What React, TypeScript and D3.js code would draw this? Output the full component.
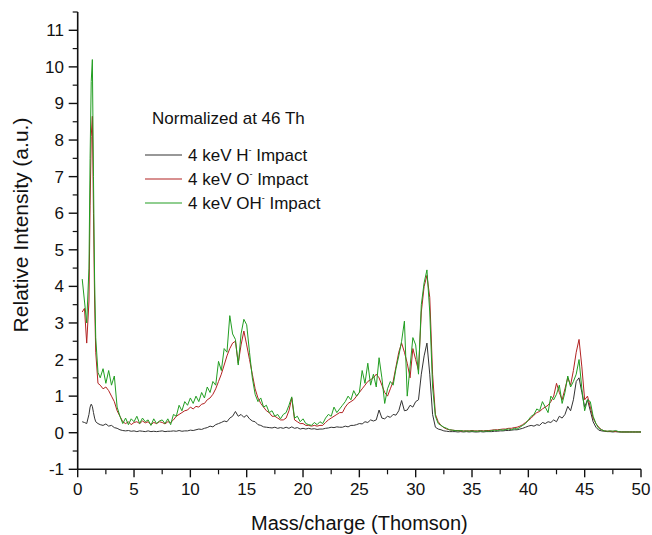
import React from 'react';
import * as d3 from 'd3';

// mass/charge grid (Thomson)
const massGrid = [
  0.4, 0.6, 0.8, 1.0, 1.1, 1.2, 1.3, 1.4, 1.5, 1.6, 1.8,
  2, 2.25, 2.5, 2.75, 3, 3.25, 3.5, 3.75, 4, 4.25, 4.5, 4.75,
  5, 5.25, 5.5, 5.75, 6, 6.25, 6.5, 6.75, 7, 7.25, 7.5, 7.75,
  8, 8.25, 8.5, 8.75, 9, 9.25, 9.5, 9.75, 10, 10.25, 10.5, 10.75,
  11, 11.25, 11.5, 11.75, 12, 12.25, 12.5, 12.75, 13, 13.25, 13.5, 13.75,
  14, 14.25, 14.5, 14.75, 15, 15.25, 15.5, 15.75, 16, 16.25, 16.5, 16.75,
  17, 17.25, 17.5, 17.75, 18, 18.25, 18.5, 18.75, 19, 19.25, 19.5, 19.75,
  20, 20.25, 20.5, 20.75, 21, 21.25, 21.5, 21.75, 22, 22.25, 22.5, 22.75,
  23, 23.25, 23.5, 23.75, 24, 24.25, 24.5, 24.75, 25, 25.25, 25.5, 25.75,
  26, 26.25, 26.5, 26.75, 27, 27.25, 27.5, 27.75, 28, 28.25, 28.5, 28.75,
  29, 29.25, 29.5, 29.75, 30, 30.25, 30.5, 30.75, 31, 31.25, 31.5, 31.75,
  32, 32.25, 32.5, 32.75, 33, 33.25, 33.5, 33.75, 34, 34.25, 34.5, 34.75,
  35, 35.25, 35.5, 35.75, 36, 36.25, 36.5, 36.75, 37, 37.25, 37.5, 37.75,
  38, 38.25, 38.5, 38.75, 39, 39.25, 39.5, 39.75, 40, 40.25, 40.5, 40.75,
  41, 41.25, 41.5, 41.75, 42, 42.25, 42.5, 42.75, 43, 43.25, 43.5, 43.75,
  44, 44.25, 44.5, 44.75, 45, 45.25, 45.5, 45.75, 46, 46.25, 46.5, 46.75,
  47, 47.25, 47.5, 47.75, 48, 48.25, 48.5, 48.75, 49, 49.25, 49.5, 49.75,
  50,
];

// 4 keV H- impact
const hImpact = [
  0.3, 0.28, 0.25, 0.5, 0.7, 0.78, 0.72, 0.55, 0.4, 0.3, 0.25,
  0.22, 0.2, 0.24, 0.18, 0.2, 0.14, 0.12, 0.08, 0.06, 0.05, 0.06, 0.04,
  0.05, 0.03, 0.05, 0.04, 0.03, 0.05, 0.03, 0.04, 0.03, 0.04, 0.05,
  0.03, 0.04, 0.04, 0.05, 0.04, 0.06, 0.04, 0.05, 0.05, 0.07, 0.06, 0.08,
  0.1, 0.09, 0.12, 0.14, 0.18, 0.16, 0.22, 0.25, 0.28, 0.32, 0.3, 0.4,
  0.45, 0.58, 0.45, 0.5, 0.42, 0.48, 0.38, 0.32, 0.3, 0.22, 0.2, 0.16,
  0.15, 0.14, 0.13, 0.15, 0.12, 0.14, 0.12, 0.15, 0.12, 0.16, 0.12, 0.14,
  0.1, 0.12, 0.1, 0.12, 0.1, 0.11, 0.09, 0.1, 0.1, 0.12, 0.13,
  0.15, 0.14, 0.16, 0.15, 0.15, 0.18, 0.16, 0.2, 0.2, 0.22, 0.25, 0.24,
  0.3, 0.28, 0.35, 0.32, 0.35, 0.62, 0.4, 0.38, 0.45, 0.42, 0.5, 0.48,
  0.6, 0.88, 0.6, 0.62, 0.75, 0.7, 0.85, 0.9, 1.6, 2.1, 2.45, 1.6,
  0.5, 0.15, 0.1, 0.08, 0.05, 0.04, 0.03, 0.03, 0.03, 0.02, 0.03, 0.02,
  0.03, 0.02, 0.03, 0.02, 0.02, 0.03, 0.02, 0.03, 0.03, 0.03, 0.04,
  0.04, 0.05, 0.05, 0.06, 0.06, 0.07, 0.08, 0.08, 0.1, 0.12, 0.15, 0.18,
  0.2, 0.18, 0.22, 0.2, 0.28, 0.25, 0.3, 0.28, 0.35, 0.3, 0.45, 0.4,
  0.5, 0.72, 0.6, 0.9, 1.4, 1.5, 1.1, 0.7, 0.9, 0.6, 0.3, 0.15,
  0.07, 0.05, 0.04, 0.03, 0.03, 0.02, 0.03, 0.02, 0.02, 0.02, 0.02, 0.02,
  0.02, 0.02, 0.02, 0.02,
];

// 4 keV O- impact
const oImpact = [
  3.3, 3.4, 2.45, 3.6, 6.2, 8.1, 8.65, 6.0, 3.6, 2.2, 1.35,
  1.3, 1.2, 1.25, 1.15, 1.0, 0.85, 0.6, 0.45, 0.3, 0.25, 0.3, 0.22,
  0.28, 0.3, 0.25, 0.32, 0.27, 0.3, 0.22, 0.28, 0.25, 0.3, 0.28,
  0.24, 0.3, 0.28, 0.35, 0.45, 0.5, 0.55, 0.6, 0.62, 0.7, 0.65, 0.72,
  0.7, 0.78, 0.8, 0.9, 0.95, 1.05, 1.2, 1.4, 1.6, 1.85, 2.1, 2.3,
  2.45, 2.5, 1.9, 2.4, 2.78, 2.4, 2.0, 1.6, 1.2, 0.95, 0.8, 0.7,
  0.6, 0.55, 0.45, 0.45, 0.4, 0.35, 0.35, 0.4, 0.6, 0.95, 0.35, 0.3,
  0.25, 0.25, 0.2, 0.2, 0.18, 0.2, 0.18, 0.2, 0.2, 0.28, 0.35,
  0.4, 0.45, 0.5, 0.55, 0.55, 0.7, 0.8, 0.85, 0.9, 1.0, 1.1, 1.2,
  1.3, 1.4, 1.45, 1.5, 1.6, 1.5, 1.3, 1.1, 1.0, 1.2, 1.4, 1.8,
  2.2, 2.45, 2.2, 1.9, 1.5, 2.3, 2.0, 1.7, 3.3, 4.0, 4.3, 3.7,
  1.6, 0.5, 0.3, 0.2, 0.14, 0.1, 0.08, 0.07, 0.06, 0.06, 0.05, 0.05,
  0.05, 0.05, 0.06, 0.05, 0.05, 0.06, 0.05, 0.06, 0.06, 0.07, 0.08,
  0.08, 0.09, 0.1, 0.1, 0.12, 0.12, 0.14, 0.15, 0.18, 0.22, 0.28, 0.33,
  0.4, 0.48, 0.55, 0.58, 0.65, 0.7, 0.75, 0.85, 1.0, 1.35, 1.1, 0.9,
  1.2, 1.5, 1.3, 1.7, 2.2, 2.55, 1.8, 0.9, 1.0, 0.7, 0.4, 0.25,
  0.15, 0.08, 0.05, 0.04, 0.04, 0.04, 0.03, 0.03, 0.02, 0.02, 0.02, 0.02,
  0.02, 0.02, 0.02, 0.02,
];

// 4 keV OH- impact
const ohImpact = [
  4.2, 3.6, 3.0, 4.5, 7.5, 9.6, 10.2, 7.0, 4.2, 2.6, 1.65,
  1.5, 1.75, 1.35, 1.7, 1.3, 1.55, 0.7, 0.45, 0.25, 0.4, 0.22, 0.38,
  0.3, 0.45, 0.25, 0.4, 0.3, 0.35, 0.2, 0.38, 0.25, 0.32, 0.35,
  0.25, 0.38, 0.22, 0.5, 0.45, 0.75, 0.6, 0.85, 0.75, 0.95, 0.8, 1.0,
  0.85, 1.1, 0.95, 1.25, 1.1, 1.4, 1.3, 1.95, 1.7, 2.3, 2.2, 3.2,
  2.7, 2.55, 1.85, 2.7, 3.1, 2.95, 2.2, 1.5, 1.05, 0.85, 0.95, 0.7,
  0.75, 0.55, 0.6, 0.45, 0.5, 0.38, 0.5, 0.55, 0.75, 0.98, 0.4, 0.45,
  0.3, 0.38, 0.25, 0.22, 0.2, 0.28, 0.22, 0.3, 0.25, 0.4, 0.5,
  0.45, 0.7, 0.55, 0.65, 0.75, 0.85, 1.0, 0.9, 1.15, 1.0, 1.1, 1.7,
  1.35, 1.9, 1.3, 1.6, 1.25, 2.05, 1.5, 0.8, 1.2, 1.4, 1.3, 1.75,
  2.1, 2.5, 3.05, 1.0, 1.8, 2.6, 2.4, 1.6, 3.5, 4.1, 4.45, 3.3,
  1.25, 0.45, 0.25, 0.2, 0.15, 0.12, 0.08, 0.07, 0.06, 0.05, 0.06, 0.04,
  0.05, 0.04, 0.05, 0.04, 0.04, 0.05, 0.04, 0.05, 0.04, 0.06, 0.07,
  0.06, 0.08, 0.07, 0.09, 0.1, 0.08, 0.12, 0.1, 0.15, 0.2, 0.25, 0.35,
  0.45, 0.5, 0.65, 0.6, 0.85, 0.7, 0.55, 1.0, 0.9, 1.05, 1.3, 0.8,
  1.1, 1.55, 1.25, 1.4, 1.6, 2.0, 1.2, 0.6, 0.9, 0.85, 0.45, 0.25,
  0.12, 0.08, 0.05, 0.04, 0.05, 0.04, 0.06, 0.03, 0.02, 0.02, 0.02, 0.02,
  0.02, 0.02, 0.02, 0.02,
];

const seriesNames = ['4 keV H', '4 keV O', '4 keV OH'];
const seriesColors = ['#333333', '#b22222', '#229e22'];
const legendTitle = 'Normalized at 46 Th';

const xTickValues = [0, 5, 10, 15, 20, 25, 30, 35, 40, 45, 50];
const yTickValues = [-1, 0, 1, 2, 3, 4, 5, 6, 7, 8, 9, 10, 11];

const W = 652;
const H = 535;
const FONT = "'Liberation Sans', Arial, sans-serif";

const App = () => {
  const x = d3.scaleLinear().domain([0, 50]).range([77.7, 641]);
  const y = d3.scaleLinear().domain([-1, 11.5]).range([469.3, 12]);

  const seriesData = [hImpact, oImpact, ohImpact];
  const line = d3.line<number>()
    .x((_, i) => x(massGrid[i]))
    .y(d => y(d));

  const xMinor = d3.range(2.5, 50, 5);
  const yMinor = d3.range(-0.5, 11.6, 1);

  const x0 = x(0);
  const yBase = y(-1);

  return (
    <svg width={W} height={H} style={{ position: 'absolute', left: 0, top: 0, background: '#fff' }}
      fontFamily={FONT}>
      {/* spectra */}
      {seriesData.map((s, k) => (
        <path key={k} d={line(s.slice(0, massGrid.length)) || ''} fill="none"
          stroke={seriesColors[k]} strokeWidth={1} strokeLinejoin="round" />
      ))}

      {/* y axis */}
      <line x1={x0} x2={x0} y1={y(11.5)} y2={yBase} stroke="#111" strokeWidth={1.6} />
      {yTickValues.map(t => (
        <g key={'y' + t}>
          <line x1={x0 - 9} x2={x0} y1={y(t)} y2={y(t)} stroke="#111" strokeWidth={1.4} />
          <text x={64} y={y(t) + 6} textAnchor="end" fontSize={17} fill="#111">{t}</text>
        </g>
      ))}
      {yMinor.map(t => (
        <line key={'ym' + t} x1={x0 - 5} x2={x0} y1={y(t)} y2={y(t)} stroke="#111" strokeWidth={1.2} />
      ))}

      {/* x axis */}
      <line x1={x0} x2={x(50)} y1={yBase} y2={yBase} stroke="#111" strokeWidth={1.6} />
      {xTickValues.map(t => (
        <g key={'x' + t}>
          <line x1={x(t)} x2={x(t)} y1={yBase} y2={yBase + 8} stroke="#111" strokeWidth={1.4} />
          <text x={x(t)} y={495} textAnchor="middle" fontSize={17} fill="#111">{t}</text>
        </g>
      ))}
      {xMinor.map(t => (
        <line key={'xm' + t} x1={x(t)} x2={x(t)} y1={yBase} y2={yBase + 5} stroke="#111" strokeWidth={1.2} />
      ))}

      {/* axis titles */}
      <text x={(x(0) + x(50)) / 2} y={530} textAnchor="middle" fontSize={20} fill="#111">
        Mass/charge (Thomson)
      </text>
      <text transform={`translate(28,${225}) rotate(-90)`} textAnchor="middle" fontSize={21} fill="#111">
        Relative Intensity (a.u.)
      </text>

      {/* legend */}
      <text x={152} y={124} fontSize={17} fill="#111">{legendTitle}</text>
      {seriesNames.map((name, k) => {
        const ly = 155 + k * 24;
        return (
          <g key={'lg' + k}>
            <line x1={145} x2={182} y1={ly} y2={ly} stroke={seriesColors[k]} strokeWidth={1.2} />
            <text x={188} y={ly + 6} fontSize={17} fill="#111">
              {name}
              <tspan fontSize={9} dy={-8}>-</tspan>
              <tspan dy={8}> Impact</tspan>
            </text>
          </g>
        );
      })}
    </svg>
  );
};

export default App;
